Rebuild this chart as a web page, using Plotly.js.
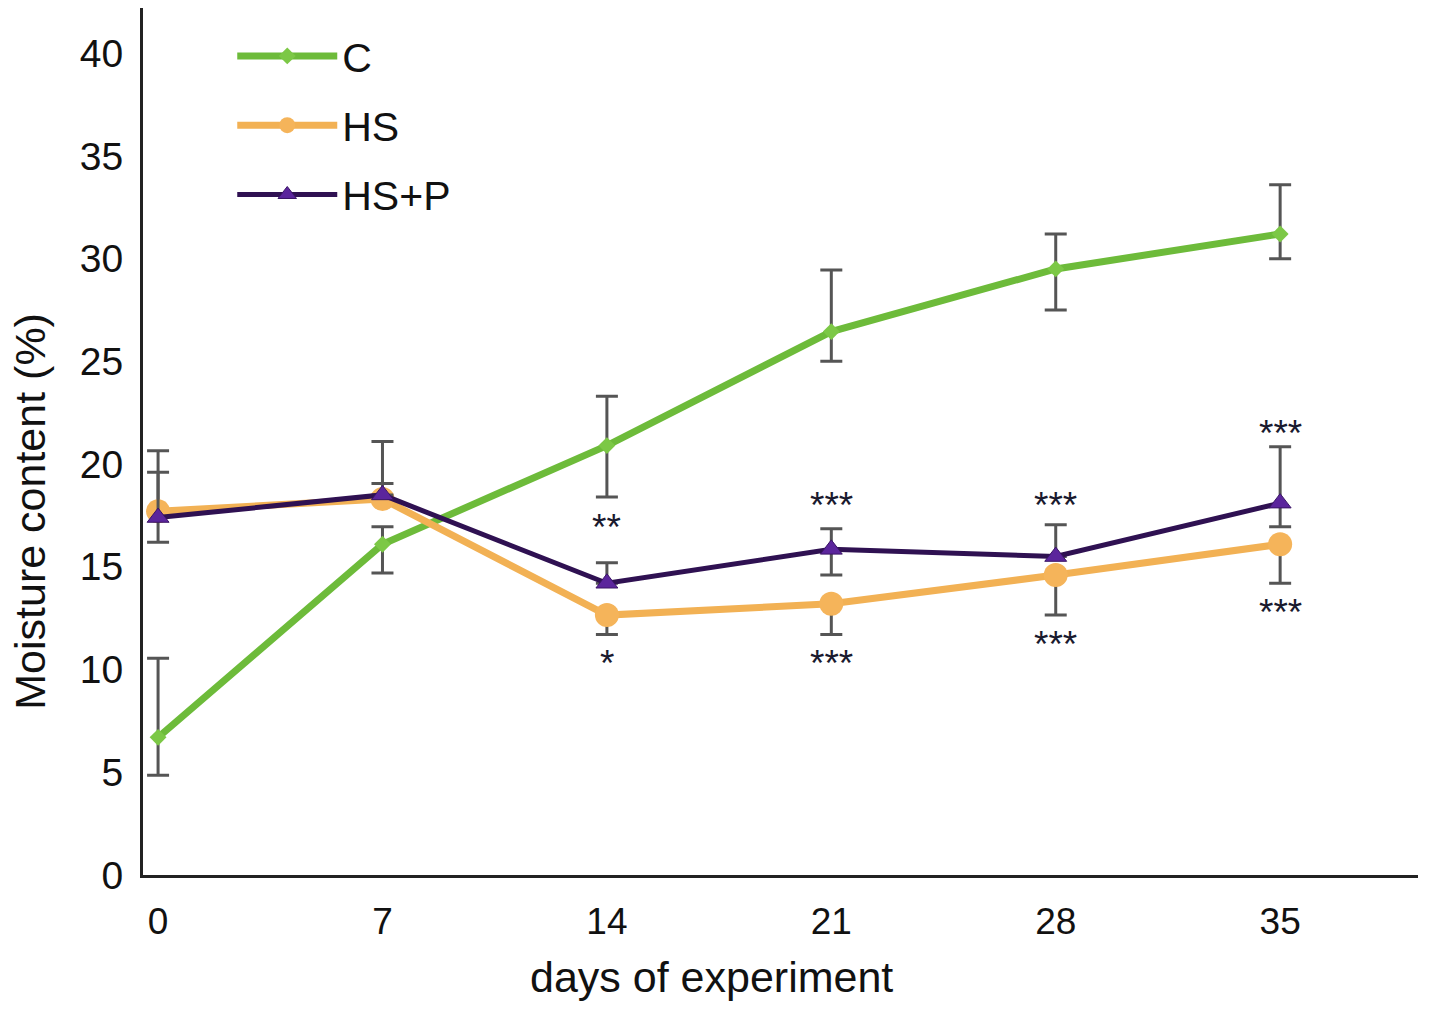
<!DOCTYPE html>
<html>
<head>
<meta charset="utf-8">
<script src="https://cdn.plot.ly/plotly-3.0.1.min.js"></script>
<style>
  html, body { margin: 0; padding: 0; background: #fff; }
  #chart { width: 1429px; height: 1013px; }
</style>
</head>
<body>
<div id="chart"></div>
<script>
var days = [0, 7, 14, 21, 28, 35];

var c_vals = [6.7, 16.1, 20.9, 26.45, 29.5, 31.2];
var c_plus = [3.85, 0.85, 2.4, 3.0, 1.7, 2.4];
var c_minus = [1.85, 1.4, 2.5, 1.45, 2.0, 1.2];

var hs_vals = [17.7, 18.3, 12.65, 13.2, 14.6, 16.1];
var hs_plus = [2.95, 0.75, 0, 0, 0, 0];
var hs_minus = [0, 0, 0.95, 1.5, 1.95, 1.9];

var hsp_vals = [17.4, 18.5, 14.2, 15.85, 15.5, 18.1];
var hsp_plus = [2.2, 2.6, 1.0, 1.0, 1.55, 2.75];
var hsp_minus = [1.2, 0, 0, 1.25, 0, 1.15];

// significance marks: day, y, text
var sig_days = [14, 14, 21, 21, 28, 28, 35, 35];
var sig_y = [17.2, 10.6, 18.3, 10.6, 18.3, 11.5, 21.8, 13.05];
var sig_text = ['**', '*', '***', '***', '***', '***', '***', '***'];

var font = 'Liberation Sans, Arial, sans-serif';
var ink = '#111111';
var err_color = '#555555';

function errs(plus, minus) {
  return {type: 'data', symmetric: false, array: plus, arrayminus: minus,
          color: err_color, thickness: 3, width: 11};
}

var traces = [
  {x: days, y: c_vals, name: 'C', type: 'scatter', mode: 'lines+markers', legendgroup: 'a',
   line: {color: '#6dbb3a', width: 7},
   marker: {symbol: 'diamond', size: 13, color: '#7cc846'},
   error_y: errs(c_plus, c_minus)},
  {x: days, y: hs_vals, name: 'HS', type: 'scatter', mode: 'lines+markers', legendgroup: 'b',
   line: {color: '#f2b154', width: 7},
   marker: {symbol: 'circle', size: 24, color: '#f5b45a'},
   error_y: errs(hs_plus, hs_minus)},
  {x: days, y: hsp_vals, name: 'HS+P', type: 'scatter', mode: 'lines+markers', legendgroup: 'c',
   line: {color: '#2f1152', width: 5},
   marker: {symbol: 'triangle-up', size: 19, color: '#5b259c', line: {color: '#3a1466', width: 1}},
   error_y: errs(hsp_plus, hsp_minus)}
];

var annotations = sig_days.map(function(d, i) {
  return {x: d, y: sig_y[i], xref: 'x', yref: 'y', text: sig_text[i], showarrow: false,
          yshift: -6, font: {family: font, size: 37, color: '#1a1a2e'}};
});

// axis titles placed as annotations so they can sit off-centre like the original
annotations.push({text: 'days of experiment', xref: 'paper', yref: 'paper', x: 0.446, y: 0,
  xanchor: 'center', yanchor: 'middle', yshift: -102, showarrow: false,
  font: {family: font, size: 43, color: ink}});
annotations.push({text: 'Moisture content (%)', xref: 'paper', yref: 'paper', x: -0.0886, y: 0.419,
  xanchor: 'center', yanchor: 'middle', textangle: -90, showarrow: false,
  font: {family: font, size: 43, color: ink}});

var layout = {
  width: 1429, height: 1013,
  margin: {l: 143, r: 11, t: 8, b: 138},
  paper_bgcolor: '#fff', plot_bgcolor: '#fff',
  font: {family: font, color: ink},
  showlegend: true,
  legend: {x: 0.07, y: 0.983, xanchor: 'left', yanchor: 'top',
           font: {family: font, size: 41, color: ink},
           itemwidth: 100, tracegroupgap: 13, bgcolor: 'rgba(0,0,0,0)'},
  xaxis: {range: [-0.47, 39.3], tickvals: days, ticks: '', showgrid: false, zeroline: false,
          showline: true, linecolor: '#222', linewidth: 3,
          tickfont: {family: font, size: 37, color: ink}, ticklabelstandoff: 12},
  yaxis: {range: [0, 42.2], tickvals: [0, 5, 10, 15, 20, 25, 30, 35, 40], ticks: '', showgrid: false,
          zeroline: false, showline: true, linecolor: '#222', linewidth: 3,
          tickfont: {family: font, size: 39, color: ink}, ticklabelstandoff: 9},
  annotations: annotations
};

Plotly.newPlot('chart', traces, layout, {staticPlot: true});
</script>
</body>
</html>
